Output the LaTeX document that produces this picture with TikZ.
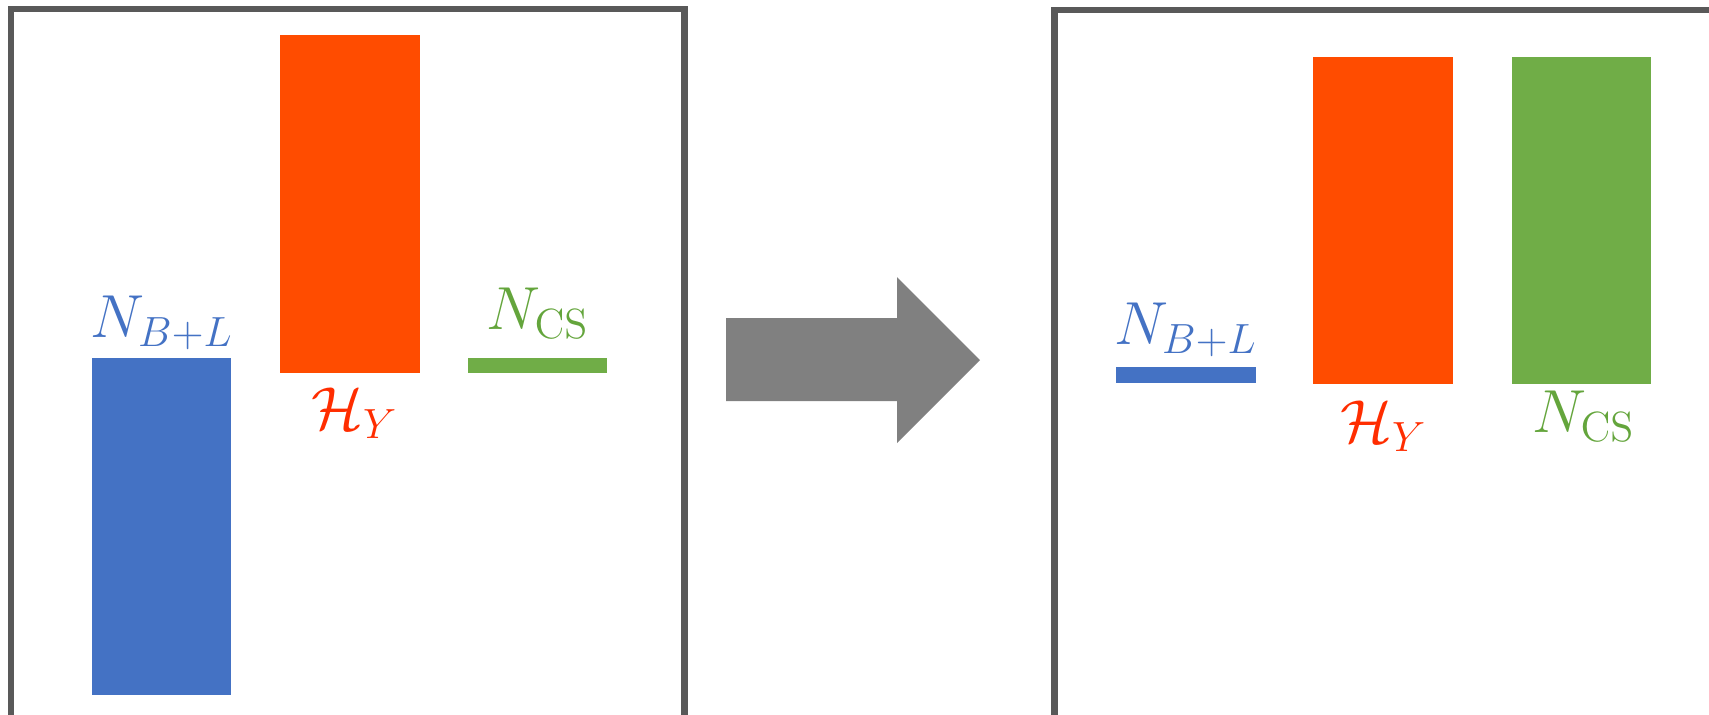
\documentclass[tikz,border=0pt]{standalone}
\usepackage{amsmath,amssymb}
\usetikzlibrary{positioning}
\DeclareMathSizes{17}{17}{12.8}{10}
\definecolor{barblue}{RGB}{68,114,196}
\definecolor{barred}{RGB}{255,76,0}
\definecolor{bargreen}{RGB}{112,173,71}
\definecolor{labelred}{RGB}{255,45,0}
\definecolor{labelgreen}{RGB}{100,165,60}
\definecolor{framegray}{RGB}{89,89,89}
\definecolor{arrowgray}{RGB}{128,128,128}

\begin{document}
\begin{tikzpicture}[x=0.01cm, y=-0.01cm,
  frame/.style={framegray, line width=1.8pt, line join=miter},
  lbl/.style={anchor=base, inner sep=0pt, font=\fontsize{17}{20}\selectfont}]
  \clip (0,0) rectangle (1709,714);
  % before
  \draw[frame] (11,730) -- (11,9) -- (684.5,9) -- (684.5,730);
  \fill[barblue] (92,358) rectangle (231,695);
  \fill[barred] (280,35) rectangle (420,373);
  \fill[bargreen] (468,358) rectangle (607,373);
  \node[lbl, barblue] (nbl1) at (162,337) {$N_{B+L}$};
  \node[lbl, labelred] (hy1) at (355,429) {$\mathcal{H}_Y$};
  \node[lbl, labelgreen] (ncs1) at (538,329) {$N_{\mathrm{CS}}$};
  % arrow
  \fill[arrowgray] (726,318) -- (897,318) -- (897,277) -- (980,360)
    -- (897,443) -- (897,401) -- (726,401) -- cycle;
  % after
  \draw[frame] (1054.5,730) -- (1054.5,10) -- (1720,10);
  \fill[barblue] (1116,367) rectangle (1256,383);
  \fill[barred] (1313,57) rectangle (1453,384);
  \fill[bargreen] (1512,57) rectangle (1651,384);
  \node[lbl, barblue] (nbl2) at (1186,344) {$N_{B+L}$};
  \node[lbl, labelred] (hy2) at (1384,442) {$\mathcal{H}_Y$};
  \node[lbl, labelgreen] (ncs2) at (1584,432) {$N_{\mathrm{CS}}$};
\end{tikzpicture}
\end{document}
